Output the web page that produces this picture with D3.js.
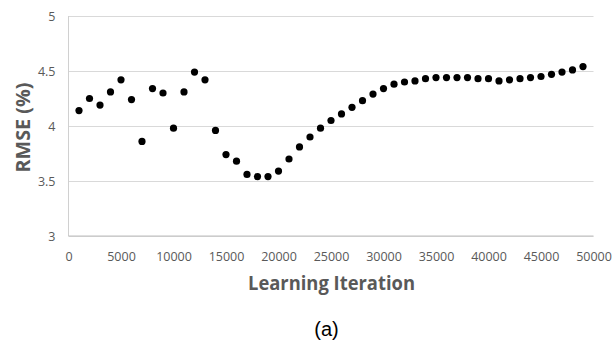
<!DOCTYPE html>
<html>
<head>
<meta charset="utf-8">
<script src="https://cdn.jsdelivr.net/npm/d3@7"></script>
<style>
  body { margin: 0; background: #fff; }
  .axis text { font-family: 'Open Sans', sans-serif; font-size: 12.5px; fill: #595959; }
  .axis .domain { display: none; }
</style>
</head>
<body>
<div id="chart"></div>
<script>
// learning iteration vs RMSE (%)
const iterations = [
  1000, 2000, 3000, 4000, 5000, 6000, 7000, 8000, 9000, 10000,
  11000, 12000, 13000, 14000, 15000, 16000, 17000, 18000, 19000, 20000,
  21000, 22000, 23000, 24000, 25000, 26000, 27000, 28000, 29000, 30000,
  31000, 32000, 33000, 34000, 35000, 36000, 37000, 38000, 39000, 40000,
  41000, 42000, 43000, 44000, 45000, 46000, 47000, 48000, 49000
]
const rmse = [
  4.14, 4.25, 4.19, 4.31, 4.42, 4.24, 3.86, 4.34, 4.30, 3.98,
  4.31, 4.49, 4.42, 3.96, 3.74, 3.68, 3.56, 3.54, 3.54, 3.59,
  3.70, 3.81, 3.90, 3.98, 4.05, 4.11, 4.17, 4.23, 4.29, 4.34,
  4.38, 4.40, 4.41, 4.43, 4.44, 4.44, 4.44, 4.44, 4.43, 4.43,
  4.41, 4.42, 4.43, 4.44, 4.45, 4.47, 4.49, 4.51, 4.54
]
const xTicks = [0, 5000, 10000, 15000, 20000, 25000, 30000, 35000, 40000, 45000, 50000]
const yTicks = [3, 3.5, 4, 4.5, 5]

const margin = { top: 16, left: 68.5, right: 18.5, bottom: 108 }
const width = 612 - margin.left - margin.right
const height = 344 - margin.top - margin.bottom

const svg = d3
  .select('#chart')
  .append('svg')
  .attr('width', 612)
  .attr('height', 344)

const g = svg
  .append('g')
  .attr('transform', 'translate(' + margin.left + ',' + margin.top + ')')

const xPositionScale = d3.scaleLinear().domain([0, 50000]).range([0, width])
const yPositionScale = d3.scaleLinear().domain([3, 5]).range([height, 0])

// horizontal gridlines + y labels
const yAxis = d3
  .axisLeft(yPositionScale)
  .tickValues(yTicks)
  .tickSize(-width)
  .tickPadding(13)
  .tickFormat(d => d)
g.append('g')
  .attr('class', 'axis y-axis')
  .call(yAxis)
g.selectAll('.y-axis .tick line').attr('stroke', '#d9d9d9')

// vertical axis line on the left
g.append('line')
  .attr('x1', 0)
  .attr('x2', 0)
  .attr('y1', 0)
  .attr('y2', height)
  .attr('stroke', '#d0d0d0')

const xAxis = d3
  .axisBottom(xPositionScale)
  .tickValues(xTicks)
  .tickSize(0)
  .tickPadding(16)
  .tickFormat(d3.format('d'))
g.append('g')
  .attr('class', 'axis x-axis')
  .attr('transform', 'translate(0,' + height + ')')
  .call(xAxis)

g.append('line')
  .attr('x1', 0)
  .attr('x2', width)
  .attr('y1', height)
  .attr('y2', height)
  .attr('stroke', '#bfbfbf')

// the dots
g.selectAll('.dot')
  .data(iterations)
  .enter()
  .append('circle')
  .attr('class', 'dot')
  .attr('cx', d => xPositionScale(d))
  .attr('cy', (d, i) => yPositionScale(rmse[i]))
  .attr('r', 3.6)
  .attr('fill', '#000')

// axis titles
svg
  .append('text')
  .text('Learning Iteration')
  .attr('x', 331.5)
  .attr('y', 289.5)
  .attr('text-anchor', 'middle')
  .attr('font-family', 'Open Sans, sans-serif')
  .attr('font-weight', 'bold')
  .attr('font-size', 19)
  .attr('textLength', 167)
  .attr('lengthAdjust', 'spacingAndGlyphs')
  .attr('fill', '#595959')

svg
  .append('text')
  .text('RMSE (%)')
  .attr('transform', 'translate(30,127.5) rotate(-90)')
  .attr('text-anchor', 'middle')
  .attr('font-family', 'Open Sans, sans-serif')
  .attr('font-weight', 'bold')
  .attr('font-size', 19)
  .attr('textLength', 90)
  .attr('lengthAdjust', 'spacingAndGlyphs')
  .attr('fill', '#595959')

svg
  .append('text')
  .text('(a)')
  .attr('x', 326.5)
  .attr('y', 336)
  .attr('text-anchor', 'middle')
  .attr('font-family', 'Liberation Sans, Arial, sans-serif')
  .attr('font-size', 20)
  .attr('fill', '#000')
</script>
</body>
</html>
